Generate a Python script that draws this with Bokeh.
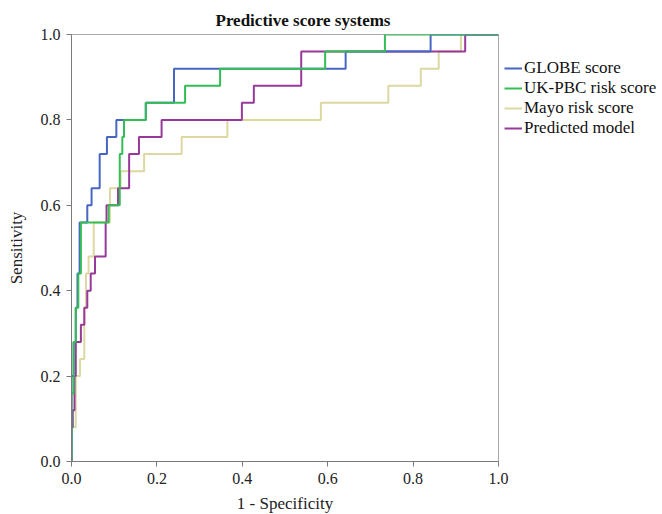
from bokeh.plotting import figure
from bokeh.models import Range1d, FixedTicker, Legend, LegendItem
from bokeh.embed import file_html
from bokeh.resources import INLINE

# ROC step vertices (1 - specificity, sensitivity)
globe_fpr = [0, 0, 0.005, 0.005, 0.01, 0.01, 0.014, 0.014, 0.019, 0.019, 0.037, 0.037, 0.047, 0.047,
             0.066, 0.066, 0.083, 0.083, 0.105, 0.105, 0.174, 0.174, 0.24, 0.24, 0.642, 0.642, 0.841, 0.841, 1.0]
globe_tpr = [0, 0.20, 0.20, 0.28, 0.28, 0.36, 0.36, 0.44, 0.44, 0.56, 0.56, 0.60, 0.60, 0.64,
             0.64, 0.72, 0.72, 0.76, 0.76, 0.80, 0.80, 0.84, 0.84, 0.92, 0.92, 0.96, 0.96, 1.0, 1.0]

ukpbc_fpr = [0, 0, 0.005, 0.005, 0.01, 0.01, 0.016, 0.016, 0.022, 0.022, 0.087, 0.087, 0.113, 0.113,
             0.119, 0.119, 0.123, 0.123, 0.174, 0.174, 0.266, 0.266, 0.348, 0.348, 0.594, 0.594, 0.734, 0.734, 1.0]
ukpbc_tpr = [0, 0.16, 0.16, 0.28, 0.28, 0.36, 0.36, 0.44, 0.44, 0.56, 0.56, 0.60, 0.60, 0.72,
             0.72, 0.76, 0.76, 0.80, 0.80, 0.84, 0.84, 0.88, 0.88, 0.92, 0.92, 0.96, 0.96, 1.0, 1.0]

mayo_fpr = [0, 0, 0.01, 0.01, 0.02, 0.02, 0.03, 0.03, 0.034, 0.034, 0.04, 0.04, 0.052, 0.052, 0.09, 0.09,
            0.115, 0.115, 0.17, 0.17, 0.258, 0.258, 0.365, 0.365, 0.584, 0.584, 0.742, 0.742,
            0.818, 0.818, 0.86, 0.86, 0.912, 0.912, 1.0]
mayo_tpr = [0, 0.08, 0.08, 0.20, 0.20, 0.24, 0.24, 0.36, 0.36, 0.44, 0.44, 0.48, 0.48, 0.56, 0.56, 0.64,
            0.64, 0.68, 0.68, 0.72, 0.72, 0.76, 0.76, 0.80, 0.80, 0.84, 0.84, 0.88,
            0.88, 0.92, 0.92, 0.96, 0.96, 1.0, 1.0]

pred_fpr = [0, 0, 0.003, 0.003, 0.007, 0.007, 0.01, 0.01, 0.022, 0.022, 0.03, 0.03, 0.037, 0.037,
            0.045, 0.045, 0.055, 0.055, 0.08, 0.08, 0.082, 0.082, 0.109, 0.109, 0.135, 0.135,
            0.158, 0.158, 0.211, 0.211, 0.399, 0.399, 0.427, 0.427, 0.538, 0.538, 0.922, 0.922, 1.0]
pred_tpr = [0, 0.08, 0.08, 0.12, 0.12, 0.20, 0.20, 0.28, 0.28, 0.32, 0.32, 0.36, 0.36, 0.40,
            0.40, 0.44, 0.44, 0.48, 0.48, 0.56, 0.56, 0.60, 0.60, 0.64, 0.64, 0.72,
            0.72, 0.76, 0.76, 0.80, 0.80, 0.84, 0.84, 0.88, 0.88, 0.96, 0.96, 1.0, 1.0]

names = ["GLOBE score", "UK-PBC risk score", "Mayo risk score", "Predicted model"]
colors = ["#4766c2", "#35bd55", "#ddd8a0", "#983898"]
ticks = [0.0, 0.2, 0.4, 0.6, 0.8, 1.0]
tick_labels = ["0.0", "0.2", "0.4", "0.6", "0.8", "1.0"]

FONT = "Liberation Serif"

p = figure(frame_width=427, frame_height=427, output_backend="svg", toolbar_location=None,
           x_range=Range1d(0, 1), y_range=Range1d(0, 1),
           min_border_left=60, min_border_top=24, min_border_bottom=46, min_border_right=150)
p.margin = (3, 0, 0, 3)
p.background_fill_color = "white"
p.border_fill_color = "white"
p.grid.visible = False
p.outline_line_color = "#a8a8a8"
p.outline_line_width = 1

p.title.text = "Predictive score systems"
p.title.text_font = FONT
p.title.text_font_size = "17px"
p.title.text_font_style = "bold"
p.title.text_color = "#111111"
p.title.align = "left"
p.title.offset = 144

for ax, lab in ((p.xaxis[0], "1 - Specificity"), (p.yaxis[0], "Sensitivity")):
    ax.ticker = FixedTicker(ticks=ticks)
    ax.major_label_overrides = {t: s for t, s in zip(ticks, tick_labels)}
    ax.minor_tick_line_color = None
    ax.major_tick_out = 5
    ax.major_tick_in = 0
    ax.axis_line_color = "#7a7a7a"
    ax.major_tick_line_color = "#7a7a7a"
    ax.major_label_text_font = FONT
    ax.major_label_text_font_size = "16px"
    ax.major_label_text_color = "#222222"
    ax.axis_label = lab
    ax.axis_label_text_font = FONT
    ax.axis_label_text_font_size = "17px"
    ax.axis_label_text_font_style = "normal"
    ax.axis_label_text_color = "#222222"
p.xaxis.major_label_standoff = 6
p.xaxis.axis_label_standoff = 7
p.yaxis.major_label_standoff = 6
p.yaxis.axis_label_standoff = 12

series = [(globe_fpr, globe_tpr), (ukpbc_fpr, ukpbc_tpr), (mayo_fpr, mayo_tpr), (pred_fpr, pred_tpr)]
draw_order = [2, 3, 0, 1]
rmap = {}
for i in draw_order:
    fx, ty = series[i]
    rmap[i] = p.line(fx, ty, line_color=colors[i], line_width=2)
items = [LegendItem(label=names[i], renderers=[rmap[i]]) for i in range(4)]
legend = Legend(items=items, location=(6, 323), border_line_color=None,
                background_fill_alpha=0, padding=0, margin=0, spacing=0,
                glyph_width=18, glyph_height=20, label_height=20, label_standoff=2,
                label_text_font=FONT, label_text_font_size="17px", label_text_color="#111111")
p.add_layout(legend, "right")

open("out.html", "w").write(file_html(p, INLINE))
